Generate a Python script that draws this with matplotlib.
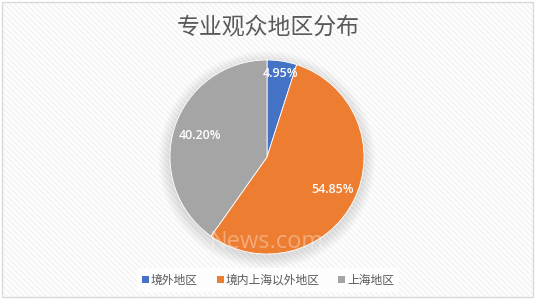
import numpy as np
import matplotlib
matplotlib.use("Agg")
import matplotlib.pyplot as plt
from matplotlib.patches import Rectangle, Circle, Patch

plt.rcParams['font.family'] = ['Noto Sans CJK SC', 'DejaVu Sans']
plt.rcParams['hatch.linewidth'] = 0.6

title = "专业观众地区分布"
categories = ["境外地区", "境内上海以外地区", "上海地区"]
shares = [4.95, 54.85, 40.20]
colors = ["#4472C4", "#ED7D31", "#A5A5A5"]
label_radius = [0.87, 0.75, 0.73]

W, H = 536, 301
fig = plt.figure(figsize=(W / 100, H / 100), dpi=100)
fig.patch.set_facecolor("white")

# striped backdrop with a thin frame
bg = fig.add_axes([0, 0, 1, 1])
bg.set_xlim(0, W)
bg.set_ylim(H, 0)
bg.axis("off")
bg.add_patch(Rectangle((2, 2), W - 5, H - 6, facecolor="#FDFDFD",
                       edgecolor="#EDEDED", hatch="\\\\\\\\\\\\", linewidth=0))
bg.add_patch(Rectangle((2, 2), W - 5, H - 6, facecolor="none",
                       edgecolor="#D9D9D9", linewidth=1.0))

# pie area
cx, cy, r = 267, 157, 97
ax = fig.add_axes([(cx - r) / W, (H - cy - r) / H, 2 * r / W, 2 * r / H])

wedges, _ = ax.pie(shares, colors=colors, startangle=90, counterclock=False,
                   radius=1.0, wedgeprops=dict(linewidth=0.6, edgecolor="white"))
for w in wedges:
    w.set_zorder(2)
ax.set_aspect("auto")
ax.set_xlim(-1.0, 1.0)
ax.set_ylim(-1.0, 1.0)
ax.axis("off")

# soft shadow beneath the pie
for k in range(10):
    rad = 1.0 + 0.012 * (10 - k)
    ax.add_patch(Circle((0, -0.03), rad, facecolor="#808080",
                        alpha=0.025, linewidth=0, zorder=0, clip_on=False))

total = sum(shares)
start = 90.0
for val, rr in zip(shares, label_radius):
    sweep = val / total * 360
    mid = np.deg2rad(start - sweep / 2)
    ax.text(rr * np.cos(mid), rr * np.sin(mid), f"{val:.2f}%",
            ha="center", va="center", color="white", fontsize=9,
            fontweight="semibold", family=["Open Sans", "DejaVu Sans"], zorder=5)
    start -= sweep

# faint watermark
ax.text(0.0, -0.88, "News.com", ha="center", va="center", fontsize=17,
        color="white", alpha=0.35, family=["Open Sans", "DejaVu Sans"],
        zorder=6, clip_on=False)

fig.text(0.5, 1 - 27 / H, title, ha="center", va="center",
         fontsize=16.5, color="#595959")

handles = [Patch(facecolor=c, edgecolor="none") for c in colors]
leg = fig.legend(handles, categories, loc="center", bbox_to_anchor=(0.5, 1 - 280 / H),
                 ncol=3, frameon=True, fontsize=8.5, handlelength=0.6,
                 handleheight=0.6, handletextpad=0.15, columnspacing=1.6,
                 borderpad=0.45, fancybox=False)
leg.get_frame().set_facecolor("white")
leg.get_frame().set_edgecolor("none")
for t in leg.get_texts():
    t.set_color("#595959")

fig.savefig("out.png", dpi=100)
